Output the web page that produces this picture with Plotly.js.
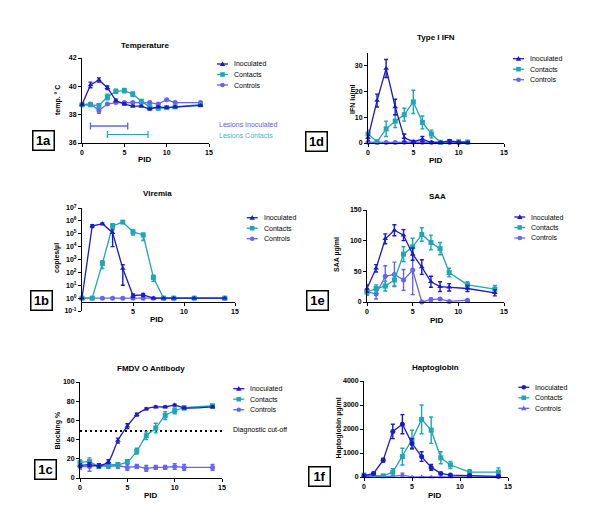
<!DOCTYPE html>
<html>
<head>
<meta charset="utf-8">
<script src="https://cdn.plot.ly/plotly-3.0.1.min.js"></script>
<style>
  html, body { margin: 0; padding: 0; background: #fff; }
  #chart { width: 600px; height: 524px; }
</style>
</head>
<body>
<div id="chart"></div>
<script>
// Temperature (1a)
const tempDays = [0, 1, 2, 3, 4, 5, 6, 7, 8, 9, 10, 11, 14];
const tempInoc = [38.7, 40.1, 40.45, 39.9, 39.0, 38.75, 38.6, 38.6, 38.4, 38.55, 38.5, 38.55, 38.65];
const tempInocErr = [0.05, 0.2, 0.15, 0.12, 0.1, 0.08, 0.05, 0.05, 0.08, 0.05, 0.05, 0.05, 0.05];
const tempCont = [38.7, 38.7, 38.65, 39.25, 39.65, 39.7, 39.45, 38.95, 38.55, 38.45, 38.5, 38.55, 38.7];
const tempContErr = [0.05, 0.05, 0.1, 0.2, 0.15, 0.15, 0.15, 0.1, 0.1, 0.08, 0.05, 0.05, 0.05];
const tempCtrl = [38.7, 38.75, 38.3, 38.75, 38.85, 38.85, 38.85, 38.85, 38.85, 38.75, 39.05, 38.85, 38.85];
const tempCtrlErr = [0.05, 0.1, 0.2, 0.05, 0.05, 0.05, 0.05, 0.05, 0.08, 0.05, 0.05, 0.05, 0.05];
const lesionInocDays = [1, 5.4];
const lesionInocLevel = 37.2;
const lesionContDays = [3, 7.8];
const lesionContLevel = 36.6;

// Type I IFN (1d)
const ifnDays = [0, 1, 2, 3, 4, 5, 6, 7, 8, 9, 10, 11];
const ifnInoc = [2, 16.5, 29, 14, 2, 0.5, 1.5, 0.2, 0.2, 0.8, 0.3, 0.2];
const ifnInocErr = [1, 2.5, 3.5, 3, 1.5, 0.5, 1, 0.3, 0.3, 0.5, 0.3, 0.3];
const ifnCont = [3.5, 0.5, 5.5, 8.5, 11, 16, 8, 3.5, 0.3, 0.6, 0.5, 0.4];
const ifnContErr = [1.5, 0.5, 3, 2.5, 2.5, 4.5, 2.5, 1.5, 0.3, 0.3, 0.3, 0.3];
const ifnCtrl = [0.3, 0.2, 0.2, 0.2, 0.3, 0.3, 0.3, 0.2, 0.2, 0.2, 0.2, 0.2];
const ifnCtrlErr = [0.2, 0.1, 0.1, 0.1, 0.2, 0.2, 0.2, 0.1, 0.1, 0.1, 0.1, 0.1];

// Viremia (1b), copies/ul
const viremiaDays = [0, 1, 2, 3, 4, 5, 6, 7, 8, 9, 11, 14];
const viremiaInoc = [1, 4e5, 6e5, 1.2e5, 200, 1.6, 1.8, 1, 1, 1, 1, 1];
const viremiaInocPlus = [0, 1e5, 1e5, 8e4, 200, 0.5, 0.5, 0, 0, 0, 0, 0];
const viremiaInocMinus = [0, 1e5, 1e5, 1.1e5, 190, 0.5, 0.5, 0, 0, 0, 0, 0];
const viremiaCont = [1, 1, 500, 4e5, 8e5, 1.4e5, 8e4, 40, 1, 1, 1, 1];
const viremiaContPlus = [0, 0, 300, 2e5, 1e5, 6e4, 3e4, 20, 0, 0, 0, 0];
const viremiaContMinus = [0, 0, 300, 1.5e5, 1e5, 6e4, 5e4, 20, 0, 0, 0, 0];
const viremiaCtrl = [1, 1, 1, 1, 1, 1, 1, 1, 1, 1, 1, 1];
const viremiaTicks = [0.1, 1, 10, 100, 1e3, 1e4, 1e5, 1e6, 1e7];
const viremiaTickText = ["10<sup>-1</sup>", "10<sup>0</sup>", "10<sup>1</sup>", "10<sup>2</sup>", "10<sup>3</sup>",
  "10<sup>4</sup>", "10<sup>5</sup>", "10<sup>6</sup>", "10<sup>7</sup>"];

// SAA (1e)
const saaDays = [0, 1, 2, 3, 4, 5, 6, 7, 8, 9, 11, 14];
const saaInoc = [22, 55, 103, 117, 109, 78, 57, 33, 25, 24, 22, 15];
const saaInocErr = [6, 6, 8, 9, 9, 10, 12, 9, 8, 6, 5, 5];
const saaCont = [16, 22, 26, 36, 78, 90, 110, 97, 87, 48, 28, 21];
const saaContErr = [5, 6, 8, 10, 12, 14, 11, 12, 10, 7, 5, 6];
const saaCtrlDays = [0, 1, 2, 3, 4, 5, 6, 7, 8, 9, 11];
const saaCtrl = [17, 13, 42, 45, 36, 52, 0, 4, 5, 1, 3];
const saaCtrlErr = [4, 8, 17, 20, 17, 40, 0, 2, 2, 1, 1];

// FMDV O antibody (1c)
const abDays = [0, 1, 2, 3, 4, 5, 6, 7, 8, 9, 10, 11, 14];
const abInoc = [13, 14, 13, 17, 39, 54, 66, 72, 74, 74, 76, 73, 74];
const abInocErr = [2, 2, 2, 2, 2.5, 2.5, 1.5, 1, 1, 1, 1, 1, 1];
const abCont = [16, 17, 12, 14, 14, 17, 28, 44, 52, 65, 70, 73, 75];
const abContErr = [3, 4, 2, 2, 2, 2, 3, 4, 5, 4, 3, 2, 2];
const abCtrl = [12, 12, 13, 12, 13, 11, 12, 10, 11, 11, 12, 11, 11];
const abCtrlErr = [3, 5, 2, 2, 3, 3, 2, 3, 2, 2, 3, 3, 3];
const cutoffDays = [0, 15];
const cutoffValue = 49;

// Haptoglobin (1f)
const hpDays = [0, 1, 2, 3, 4, 5, 6, 7, 8, 9, 11, 14];
const hpInoc = [50, 150, 700, 1900, 2200, 1400, 850, 400, 150, 80, 60, 30];
const hpInocErr = [40, 50, 80, 300, 400, 200, 200, 120, 40, 30, 20, 20];
const hpCont = [80, 80, 50, 200, 850, 1550, 2400, 1950, 800, 500, 200, 200];
const hpContErr = [40, 40, 30, 150, 350, 400, 600, 550, 250, 150, 100, 180];
const hpCtrl = [30, 30, 30, 30, 80, 0, 0, 0, 0, 0, 0, 0];
const hpCtrlErr = [10, 10, 10, 10, 80, 0, 0, 0, 0, 0, 0, 0];

const FONT = "Liberation Sans, Arial, sans-serif";
const C_INOC = "#1a1ac8";
const C_CONT = "#1fa5b5";
const C_CTRL = "#6464f5";
const W = 600, H = 524;
const px = (v) => v / W;
const py = (v) => 1 - v / H;

function series(n, x, y, err, name, color, symbol, opts = {}) {
  const errY = opts.errPlus
    ? { type: "data", symmetric: false, array: opts.errPlus, arrayminus: opts.errMinus }
    : { type: "data", array: err };
  return {
    x: x, y: y, name: name, type: "scatter", mode: "lines+markers",
    xaxis: n === 1 ? "x" : "x" + n, yaxis: n === 1 ? "y" : "y" + n,
    line: { color: color, width: 1.3, shape: opts.shape || "linear", smoothing: 0.8 },
    marker: { color: color, size: 5, symbol: symbol },
    error_y: Object.assign(errY, { color: color, thickness: 1.4, width: 2 }),
    cliponaxis: false, showlegend: false, hoverinfo: "x+y",
  };
}

const data = [
  series(1, tempDays, tempCtrl, tempCtrlErr, "Controls", C_CTRL, "circle"),
  series(1, tempDays, tempCont, tempContErr, "Contacts", C_CONT, "square"),
  series(1, tempDays, tempInoc, tempInocErr, "Inoculated", C_INOC, "triangle-up"),
  {
    x: lesionInocDays, y: [lesionInocLevel, lesionInocLevel], xaxis: "x", yaxis: "y",
    type: "scatter", mode: "lines+markers", showlegend: false, hoverinfo: "skip",
    line: { color: C_CTRL, width: 1.4 },
    marker: { symbol: "line-ns-open", size: 5, line: { color: C_CTRL, width: 1.4 } },
  },
  {
    x: lesionContDays, y: [lesionContLevel, lesionContLevel], xaxis: "x", yaxis: "y",
    type: "scatter", mode: "lines+markers", showlegend: false, hoverinfo: "skip",
    line: { color: C_CONT, width: 1.2 },
    marker: { symbol: "line-ns-open", size: 5, line: { color: C_CONT, width: 1.2 } },
  },

  series(2, ifnDays, ifnCtrl, ifnCtrlErr, "Controls", C_CTRL, "circle"),
  series(2, ifnDays, ifnCont, ifnContErr, "Contacts", C_CONT, "square"),
  series(2, ifnDays, ifnInoc, ifnInocErr, "Inoculated", C_INOC, "triangle-up"),

  series(3, viremiaDays, viremiaCtrl, null, "Controls", C_CTRL, "circle",
    { errPlus: viremiaCtrl.map(() => 0), errMinus: viremiaCtrl.map(() => 0) }),
  series(3, viremiaDays, viremiaCont, null, "Contacts", C_CONT, "square",
    { errPlus: viremiaContPlus, errMinus: viremiaContMinus }),
  series(3, viremiaDays, viremiaInoc, null, "Inoculated", C_INOC, "triangle-up",
    { errPlus: viremiaInocPlus, errMinus: viremiaInocMinus }),

  series(4, saaCtrlDays, saaCtrl, saaCtrlErr, "Controls", C_CTRL, "circle"),
  series(4, saaDays, saaCont, saaContErr, "Contacts", C_CONT, "square"),
  series(4, saaDays, saaInoc, saaInocErr, "Inoculated", C_INOC, "triangle-up"),

  {
    x: cutoffDays, y: [cutoffValue, cutoffValue], xaxis: "x5", yaxis: "y5",
    type: "scatter", mode: "lines", showlegend: false, hoverinfo: "skip",
    line: { color: "#000", width: 2, dash: "2px,3px" },
  },
  series(5, abDays, abCtrl, abCtrlErr, "Controls", C_CTRL, "circle"),
  series(5, abDays, abCont, abContErr, "Contacts", C_CONT, "square", { shape: "spline" }),
  series(5, abDays, abInoc, abInocErr, "Inoculated", C_INOC, "triangle-up", { shape: "spline" }),

  series(6, hpDays, hpCtrl, hpCtrlErr, "Controls", C_CTRL, "triangle-up"),
  series(6, hpDays, hpCont, hpContErr, "Contacts", C_CONT, "square"),
  series(6, hpDays, hpInoc, hpInocErr, "Inoculated", C_INOC, "circle"),
];

// panel geometry in pixels: [left, right, top, bottom]
const panels = [
  { n: 1, box: [82, 209, 58, 143], yRange: [36, 42], dtick: 2, title: "Temperature", titleAt: [145, 46],
    yTitle: "temp. ° C", yTitleAt: [58, 100], pidAt: [145, 159], legendAt: [217, 64], tag: "1a", tagAt: [43, 140],
    syms: ["triangle", "square", "circle"] },
  { n: 2, box: [368, 504, 53, 143], yRange: [0, 35], dtick: 10, title: "Type I IFN", titleAt: [436, 38],
    yTitle: "IFN iu/ml", yTitleAt: [352, 99], pidAt: [436, 160], legendAt: [513, 58.7], tag: "1d", tagAt: [316.7, 141],
    syms: ["triangle", "square", "circle"] },
  { n: 3, box: [82, 235, 208, 311], yRange: [-1, 7], log: true, xAxisAt: 301.5, title: "Viremia", titleAt: [157, 193],
    yTitle: "copies/µl", yTitleAt: [57, 258], pidAt: [157, 319], legendAt: [246.7, 217.7], tag: "1b", tagAt: [41.7, 300],
    syms: ["triangle", "square", "circle"] },
  { n: 4, box: [367, 504, 210, 302], yRange: [0, 150], dtick: 50, title: "SAA", titleAt: [437, 197],
    yTitle: "SAA µg/ml", yTitleAt: [337, 255], pidAt: [437, 320.5], legendAt: [514.3, 217], tag: "1e", tagAt: [317.5, 300],
    syms: ["triangle", "square", "circle"] },
  { n: 5, box: [80, 222, 382, 478], yRange: [0, 100], dtick: 20, title: "FMDV O Antibody", titleAt: [151, 368],
    yTitle: "Blocking %", yTitleAt: [57.5, 430], pidAt: [151, 495.5], legendAt: [233.3, 388.7], tag: "1c", tagAt: [45, 469],
    syms: ["triangle", "square", "circle"] },
  { n: 6, box: [364, 508, 381, 477], yRange: [0, 4000], dtick: 1000, title: "Haptoglobin", titleAt: [435, 367],
    yTitle: "Haptoglobin µg/ml", yTitleAt: [338.5, 428], pidAt: [435, 495.5], legendAt: [518.3, 387.3], tag: "1f", tagAt: [319.3, 476.7],
    syms: ["circle", "square", "triangle"] },
];

const axisBase = {
  showgrid: false, zeroline: false, showline: true, linecolor: "#000", linewidth: 1,
  ticks: "outside", ticklen: 3, tickwidth: 1, tickcolor: "#000", fixedrange: true,
  tickfont: { family: FONT, size: 7, color: "#000", weight: "bold" },
};

const layout = {
  width: W, height: H, margin: { l: 0, r: 0, t: 0, b: 0 },
  paper_bgcolor: "#fff", plot_bgcolor: "#fff", showlegend: false,
  font: { family: FONT, color: "#000" },
  annotations: [], shapes: [],
};

function ann(text, x, y, size, extra = {}) {
  return Object.assign({
    text: text, x: px(x), y: py(y), xref: "paper", yref: "paper", showarrow: false,
    xanchor: "center", yanchor: "middle", font: { family: FONT, size: size, color: "#000" },
  }, extra);
}

function legendGlyph(sym, cx, cy, color) {
  const r = 2.3;
  if (sym === "triangle") {
    return { type: "path", xref: "paper", yref: "paper", fillcolor: color, line: { width: 0 },
      path: `M ${px(cx - 2.7)},${py(cy + 2)} L ${px(cx + 2.7)},${py(cy + 2)} L ${px(cx)},${py(cy - 2.8)} Z` };
  }
  return { type: sym === "circle" ? "circle" : "rect", xref: "paper", yref: "paper",
    fillcolor: color, line: { width: 0 },
    x0: px(cx - r), x1: px(cx + r), y0: py(cy + r), y1: py(cy - r) };
}

const legendNames = ["Inoculated", "Contacts", "Controls"];
const legendColors = [C_INOC, C_CONT, C_CTRL];
const bold = (size) => ({ family: FONT, size: size, color: "#000", weight: "bold" });

panels.forEach((p) => {
  const xs = p.n === 1 ? "" : String(p.n);
  const [l, r, t, b] = p.box;
  const xax = Object.assign({}, axisBase, {
    domain: [px(l), px(r)], range: [0, 15], anchor: "y" + xs,
    tickvals: p.log ? [5, 10, 15] : [0, 5, 10, 15],
  });
  if (p.xAxisAt) {
    // x axis crosses the log y axis just under 10^0, as in the original
    xax.anchor = "free";
    xax.position = py(p.xAxisAt);
  }
  layout["xaxis" + xs] = xax;
  const yax = Object.assign({}, axisBase, {
    domain: [py(b), py(t)], range: p.yRange, anchor: "x" + xs,
  });
  if (p.log) {
    yax.type = "log";
    yax.tickvals = viremiaTicks;
    yax.ticktext = viremiaTickText;
  } else {
    yax.dtick = p.dtick;
    yax.tick0 = p.yRange[0];
  }
  layout["yaxis" + xs] = yax;

  layout.annotations.push(ann(p.title, p.titleAt[0], p.titleAt[1], 8, { font: bold(8) }));
  layout.annotations.push(ann(p.yTitle, p.yTitleAt[0], p.yTitleAt[1], 7, { textangle: -90, font: bold(7) }));
  layout.annotations.push(ann("PID", p.pidAt[0], p.pidAt[1], 8, { font: bold(8) }));
  layout.annotations.push(ann(p.tag, p.tagAt[0], p.tagAt[1], 13, {
    font: bold(13),
    bordercolor: "#000", borderwidth: 1.5, borderpad: 1, width: 18, height: 16, bgcolor: "#fff",
  }));

  const [lx, ly] = p.legendAt;
  legendNames.forEach((name, i) => {
    const y = ly + i * 10.5;
    layout.shapes.push({ type: "line", xref: "paper", yref: "paper", x0: px(lx), x1: px(lx + 11),
      y0: py(y), y1: py(y), line: { color: legendColors[i], width: 1.3 } });
    layout.shapes.push(legendGlyph(p.syms[i], lx + 5.5, y, legendColors[i]));
    layout.annotations.push(ann(name, lx + 15, y, 7, { xanchor: "left" }));
  });
});

layout.annotations.push(ann("Lesions Inoculated", 217, 124.5, 7, { xanchor: "left", font: { family: FONT, size: 7, color: "#5a5af0" } }));
layout.annotations.push(ann("Lesions Contacts", 217, 135, 7, { xanchor: "left", font: { family: FONT, size: 7, color: "#33b8c8" } }));
layout.annotations.push(ann("Diagnostic cut-off", 231, 430, 7, { xanchor: "left" }));

Plotly.newPlot("chart", data, layout, { displayModeBar: false, staticPlot: true });
</script>
</body>
</html>
